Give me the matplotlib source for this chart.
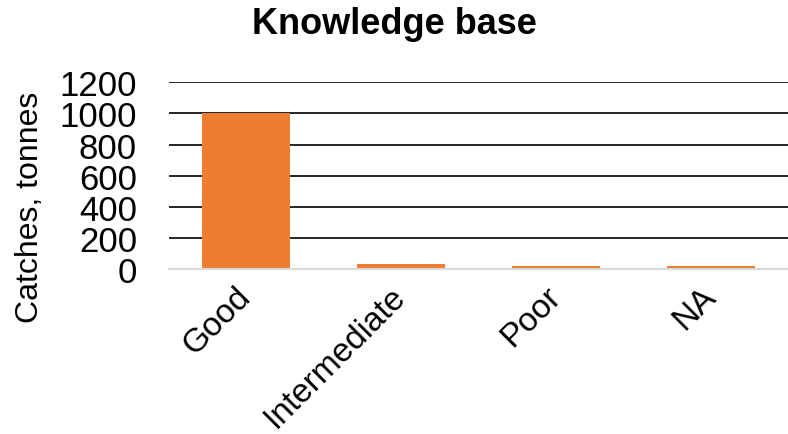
import matplotlib.pyplot as plt

plt.rcParams['font.family'] = ['Liberation Sans', 'DejaVu Sans']

categories = ['Good', 'Intermediate', 'Poor', 'NA']
catches = [1005, 30, 20, 20]
yticks = [0, 200, 400, 600, 800, 1000, 1200]

fig = plt.figure(figsize=(7.88, 4.35), dpi=100)
ax = fig.add_axes([169 / 788, 1 - 270 / 435, 1 - 169 / 788, (270 - 83.3) / 435])

x = range(len(categories))
ax.bar(x, catches, width=0.57, color='#ED7D31', zorder=3)

ax.set_xlim(-0.5, len(categories) - 0.5)
ax.set_ylim(0, 1200)
ax.set_yticks(yticks)
ax.set_yticklabels([str(v) for v in yticks], fontsize=25)
ax.set_xticks(list(x))
ax.set_xticklabels(categories, fontsize=24, rotation=45, ha='right',
                   va='center', rotation_mode='anchor')

# black gridlines, light grey baseline
ax.yaxis.grid(True, color='black', linewidth=1.2, zorder=0)
ax.set_axisbelow(True)
for s in ['top', 'right', 'left']:
    ax.spines[s].set_visible(False)
ax.spines['bottom'].set_color('#d9d9d9')
ax.spines['bottom'].set_linewidth(1.5)
ax.spines['bottom'].set_zorder(4)
ax.tick_params(axis='y', length=0, pad=23)
ax.tick_params(axis='x', length=0, pad=16)

fig.text(0.5, 0.985, 'Knowledge base', ha='center', va='top',
         fontsize=26, fontweight='bold')
fig.text(30 / 788, 1 - 207 / 435, 'Catches, tonnes', rotation=90,
         ha='center', va='center', fontsize=23)

fig.savefig('out.png', dpi=100)
